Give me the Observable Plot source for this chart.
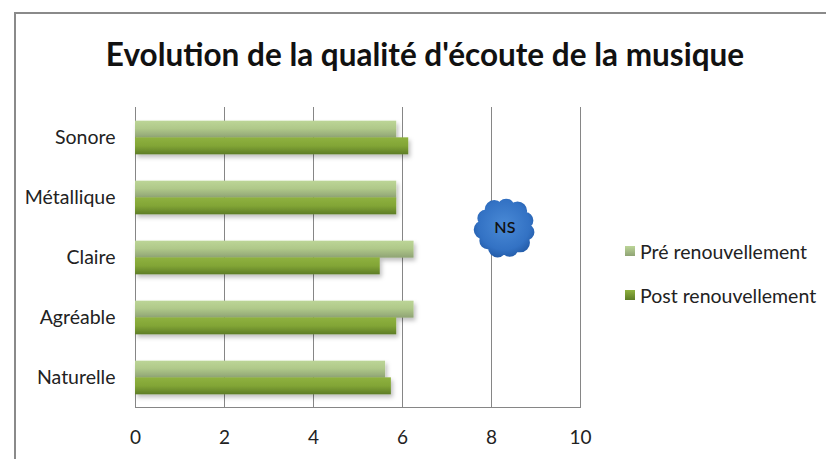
<!DOCTYPE html>
<html>
<head>
<meta charset="utf-8">
<script src="https://cdn.jsdelivr.net/npm/d3@7"></script>
<script src="https://cdn.jsdelivr.net/npm/@observablehq/plot@0.6"></script>
<style>
  html, body { margin: 0; padding: 0; background: #fff; }
  #wrap { position: relative; width: 826px; height: 459px; overflow: hidden; font-family: Lato, "Open Sans", sans-serif; }
  #border { position: absolute; left: 14px; top: 12px; width: 900px; height: 600px; border: 2px solid #8a8a8a; box-sizing: border-box; }
  #title { position: relative; height: 94px; text-align: center; font-size: 31.5px; font-weight: bold; color: #111; line-height: 1; padding-top: 39px; box-sizing: border-box; padding-left: 24px; }
  #chart { position: relative; }
  #legend { position: absolute; left: 625px; top: 240px; font-size: 19.5px; color: #222; }
  #legend .item { display: flex; align-items: center; height: 22px; margin-bottom: 22px; }
  #legend .sw { width: 10px; height: 10px; margin-right: 5px; }
</style>
</head>
<body>
<div id="wrap">
  <div id="border"></div>
  <div id="title"></div>
  <div id="chart"></div>
  <div id="legend"></div>
</div>
<script>
const titleText = "Evolution de la qualité d'écoute de la musique";
const categories = ["Sonore", "Métallique", "Claire", "Agréable", "Naturelle"];
const series = ["Pré renouvellement", "Post renouvellement"];
const preValues = [5.87, 5.87, 6.26, 6.26, 5.62];
const postValues = [6.14, 5.87, 5.5, 5.87, 5.75];
const xTicks = [0, 2, 4, 6, 8, 10];
const noteLabel = "NS";
const noteX = 8.3;
const noteCategory = "Métallique";

const preData = categories.map((c, i) => ({category: c, value: preValues[i], series: series[0]}));
const postData = categories.map((c, i) => ({category: c, value: postValues[i], series: series[1]}));
const noteData = [{label: noteLabel, x: noteX, category: noteCategory}];

document.getElementById("title").textContent = titleText;

// cloud symbol
const cloudSymbol = {
  draw(context, size) {
    const R = Math.sqrt(size / Math.PI);
    const circle = (cx, cy, r) => { context.moveTo(cx + r, cy); context.arc(cx, cy, r, 0, 2 * Math.PI); };
    circle(0, 0, 0.72 * R);
    const n = 11;
    for (let k = 0; k < n; ++k) {
      const a = (2 * Math.PI * k) / n + 0.2;
      const rr = 0.28 * R + (k % 2 ? 0.04 * R : 0);
      circle(Math.cos(a) * 0.72 * R, Math.sin(a) * 0.7 * R, rr);
    }
  }
};

function defs() {
  return () => {
    const d = d3.create("svg:defs");
    const g1 = d.append("linearGradient").attr("id", "gPre").attr("x1", 0).attr("y1", 0).attr("x2", 0).attr("y2", 1);
    g1.append("stop").attr("offset", "0%").attr("stop-color", "#bcd597");
    g1.append("stop").attr("offset", "45%").attr("stop-color", "#b0c98a");
    g1.append("stop").attr("offset", "100%").attr("stop-color", "#8fa374");
    const g2 = d.append("linearGradient").attr("id", "gPost").attr("x1", 0).attr("y1", 0).attr("x2", 0).attr("y2", 1);
    g2.append("stop").attr("offset", "0%").attr("stop-color", "#8fb23f");
    g2.append("stop").attr("offset", "50%").attr("stop-color", "#82a536");
    g2.append("stop").attr("offset", "100%").attr("stop-color", "#5d7c26");
    const g3 = d.append("radialGradient").attr("id", "gCloud").attr("cx", "50%").attr("cy", "45%").attr("r", "60%");
    g3.append("stop").attr("offset", "0%").attr("stop-color", "#4a8ad6");
    g3.append("stop").attr("offset", "70%").attr("stop-color", "#3372c4");
    g3.append("stop").attr("offset", "100%").attr("stop-color", "#1f56a2");
    const f = d.append("filter").attr("id", "shadow").attr("x", "-5%").attr("y", "-30%").attr("width", "115%").attr("height", "180%");
    f.append("feDropShadow").attr("dx", 2).attr("dy", 3).attr("stdDeviation", 2).attr("flood-color", "#000").attr("flood-opacity", 0.25);
    return d.node();
  };
}

const band = 60, bw = 16.67;
const chart = Plot.plot({
  width: 826,
  height: 365,
  marginTop: 13,
  marginBottom: 52,
  marginLeft: 135,
  marginRight: 246,
  style: {fontFamily: "Lato, 'Open Sans', sans-serif", fontSize: "19px", color: "#222", background: "transparent"},
  x: {domain: [0, 10], ticks: xTicks, label: null},
  y: {domain: categories, paddingInner: 1 - bw / band, paddingOuter: (1 - bw / band) / 2, label: null},
  marks: [
    defs(),
    Plot.ruleX(xTicks, {stroke: "#868686", strokeWidth: 1}),
    Plot.frame({anchor: "bottom", stroke: "#868686"}),
    Plot.barX(preData, {y: "category", x: "value", fill: "url(#gPre)", dy: -bw / 2}),
    Plot.barX(postData, {y: "category", x: "value", fill: "url(#gPost)", dy: bw / 2}),
    Plot.dot(noteData, {x: "x", y: "category", dy: band / 2, r: 30, symbol: cloudSymbol, fill: "url(#gCloud)", stroke: null}),
    Plot.text(noteData, {x: "x", y: "category", dy: band / 2, text: "label", fontSize: 16, fill: "#111", fontWeight: 600}),
    Plot.axisX({ticks: xTicks, tickSize: 0, tickPadding: 23, fontSize: 19, label: null}),
    Plot.axisY({tickSize: 0, tickPadding: 20, fontSize: 19.5, label: null})
  ]
});
document.getElementById("chart").appendChild(chart);
d3.select(chart).selectAll("g[aria-label='bar']").attr("filter", "url(#shadow)");

const legend = d3.select("#legend");
const swFills = ["linear-gradient(#bcd597, #8fa374)", "linear-gradient(#8fb23f, #5d7c26)"];
series.forEach((s, i) => {
  const it = legend.append("div").attr("class", "item");
  it.append("div").attr("class", "sw").style("background", swFills[i]);
  it.append("span").text(s);
});
</script>
</body>
</html>
